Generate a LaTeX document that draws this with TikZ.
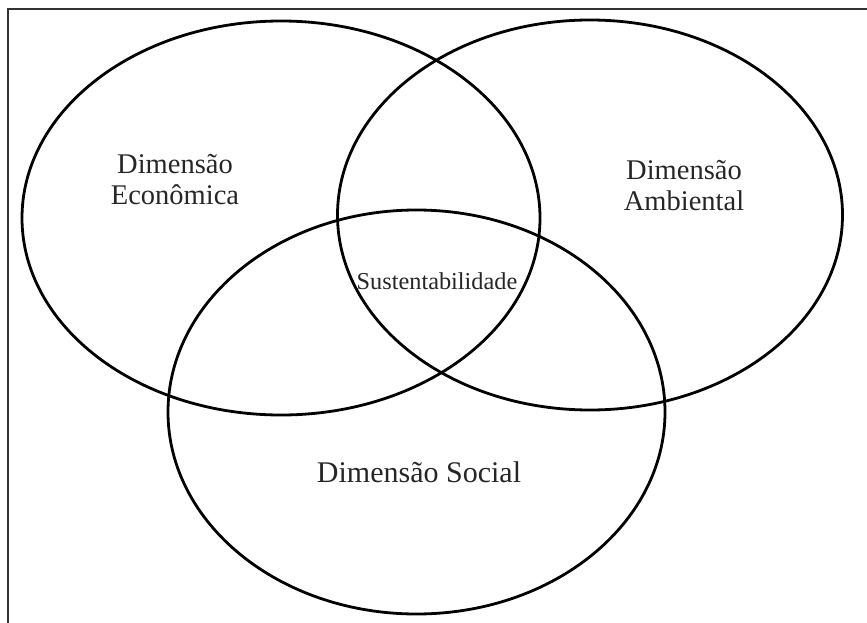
\documentclass[tikz,border=0pt]{standalone}
\usepackage{fontspec}
\setmainfont{Liberation Serif}
\usetikzlibrary{shapes.geometric}
\begin{document}
\begin{tikzpicture}[x=1pt,y=-1pt,
  circ/.style={ellipse, draw=black, line width=2.8pt, inner sep=0pt},
  dimlabel/.style={align=center, text=black!85, font=\fontsize{28.5}{31}\selectfont},
  corelabel/.style={align=center, text=black!85, font=\fontsize{24.3}{28}\selectfont},
  frameline/.style={draw=black!80, line width=2pt}]
\useasboundingbox (0,0) rectangle (867,623);
% open frame: left and top edges
\coordinate (fbl) at (8,623);
\coordinate (ftl) at (8,9);
\coordinate (ftr) at (867,9);
\draw[frameline] (fbl) -- (ftl) -- (ftr);
% the three dimensions
\node[circ, minimum width=518pt, minimum height=394pt] (eco) at (281,218) {};
\node[circ, minimum width=505pt, minimum height=390pt] (amb) at (590,215) {};
\node[circ, minimum width=497pt, minimum height=404pt] (soc) at (416.5,412) {};
% labels
\node[dimlabel] (ecot) at (175,180) {Dimensão\\Econômica};
\node[dimlabel] (ambt) at (684,186) {Dimensão\\Ambiental};
\node[dimlabel, font=\fontsize{30}{32}\selectfont] (soct) at (419,472) {Dimensão Social};
\node[corelabel] (sus) at (437,281) {Sustentabilidade};
\end{tikzpicture}
\end{document}
